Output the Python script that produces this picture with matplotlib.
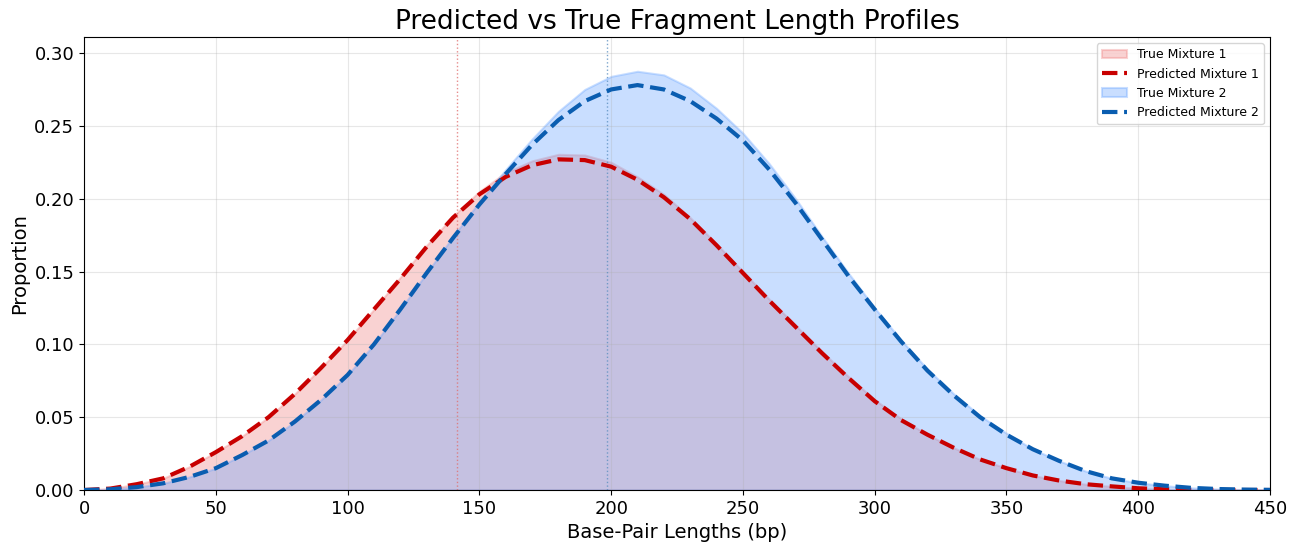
import numpy as np
import matplotlib
matplotlib.use("Agg")
import matplotlib.pyplot as plt

# fragment lengths (bp), sampled every 10 bp
lengths = np.arange(0, 451, 10)

# values
pred_mix1 = [0.000, 0.001, 0.004, 0.008, 0.016, 0.026, 0.037, 0.050, 0.066, 0.084,
             0.103, 0.124, 0.145, 0.167, 0.187, 0.203, 0.215, 0.223, 0.227, 0.2265,
             0.222, 0.213, 0.201, 0.186, 0.168, 0.149, 0.130, 0.112, 0.094, 0.077,
             0.061, 0.048, 0.038, 0.029, 0.021, 0.015, 0.010, 0.0065, 0.004, 0.0025,
             0.0012, 0.0005, 0.0002, 0.0001, 0.0, 0.0]
true_mix1 = [0.000, 0.001, 0.004, 0.008, 0.016, 0.026, 0.037, 0.050, 0.066, 0.084,
             0.103, 0.124, 0.146, 0.168, 0.188, 0.205, 0.218, 0.226, 0.2305, 0.230,
             0.225, 0.215, 0.203, 0.187, 0.169, 0.150, 0.131, 0.113, 0.095, 0.078,
             0.062, 0.049, 0.038, 0.029, 0.021, 0.015, 0.010, 0.0065, 0.004, 0.0025,
             0.0012, 0.0005, 0.0002, 0.0001, 0.0, 0.0]
pred_mix2 = [0.000, 0.0005, 0.002, 0.0046, 0.009, 0.015, 0.024, 0.034, 0.047, 0.062,
             0.079, 0.100, 0.124, 0.149, 0.173, 0.196, 0.217, 0.237, 0.254, 0.267,
             0.275, 0.278, 0.275, 0.267, 0.255, 0.240, 0.220, 0.197, 0.172, 0.147,
             0.124, 0.102, 0.082, 0.065, 0.050, 0.038, 0.028, 0.020, 0.013, 0.008,
             0.005, 0.003, 0.0015, 0.0007, 0.0003, 0.0001]
true_mix2 = [0.000, 0.0005, 0.002, 0.0046, 0.009, 0.015, 0.024, 0.034, 0.047, 0.062,
             0.079, 0.100, 0.124, 0.149, 0.174, 0.198, 0.220, 0.241, 0.260, 0.275,
             0.284, 0.2875, 0.285, 0.276, 0.262, 0.245, 0.224, 0.200, 0.174, 0.149,
             0.125, 0.103, 0.083, 0.066, 0.051, 0.039, 0.028, 0.020, 0.013, 0.008,
             0.005, 0.003, 0.0015, 0.0007, 0.0003, 0.0001]

# marker lines
mean_mix1 = 141.5
mean_mix2 = 198.5

fig = plt.figure(figsize=(13.03, 5.42), dpi=100)
ax = fig.add_axes([0.0645, 0.0959, 0.9102, 0.8358])

ax.fill_between(lengths, true_mix1, color="#f08080", alpha=0.35, lw=1.5,
                label="True Mixture 1", zorder=1)
ax.fill_between(lengths, true_mix2, color="#66a3ff", alpha=0.35, lw=1.5,
                label="True Mixture 2", zorder=1)
ax.plot(lengths, pred_mix1, "--", color="#c80000", lw=3, label="Predicted Mixture 1", zorder=3)
ax.plot(lengths, pred_mix2, "--", color="#0a5db0", lw=3, label="Predicted Mixture 2", zorder=3)

ax.axvline(mean_mix1, color="#e07070", ls=":", lw=1, alpha=0.8, zorder=2)
ax.axvline(mean_mix2, color="#5b8fc0", ls=":", lw=1, alpha=0.8, zorder=2)

ax.set_xlim(0, 450)
ax.set_ylim(0, 0.311)
ax.set_title("Predicted vs True Fragment Length Profiles", fontsize=19)
ax.set_xlabel("Base-Pair Lengths (bp)", fontsize=14)
ax.set_ylabel("Proportion", fontsize=14)
ax.tick_params(labelsize=13)
ax.grid(True, alpha=0.3)

handles, labels = ax.get_legend_handles_labels()
order = [labels.index(l) for l in ["True Mixture 1", "Predicted Mixture 1",
                                   "True Mixture 2", "Predicted Mixture 2"]]
ax.legend([handles[i] for i in order], [labels[i] for i in order],
          loc="upper right", fontsize=9)

fig.savefig("out.png", dpi=100)
